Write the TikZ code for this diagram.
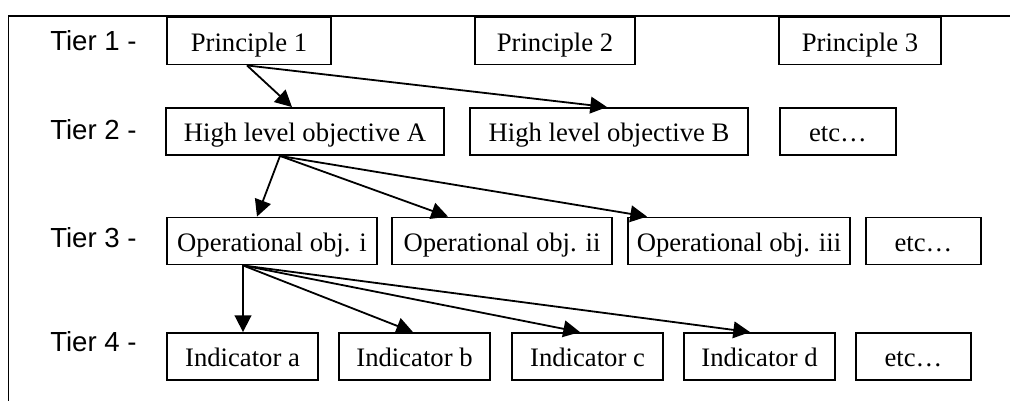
\documentclass[tikz,border=0pt]{standalone}
\usepackage{fontspec}
\setmainfont{Liberation Serif}
\newfontfamily\tierfont{Liberation Sans}
\usetikzlibrary{arrows.meta,calc}
\begin{document}
\begin{tikzpicture}[x=0.75pt,y=-0.75pt,
  box/.style={draw,line width=1.4pt,inner sep=0pt,minimum height=35.25pt,
    text height=17pt,text depth=2pt,
    font=\fontsize{20}{24}\selectfont},
  bw/.style={minimum width=#1*0.75pt},
  tier/.style={anchor=base west,inner sep=0pt,font=\tierfont\fontsize{20.7}{24}\selectfont},
  arr/.style={line width=1.35pt,-{Triangle[length=12.5pt,width=12.5pt]}},
  frame/.style={line width=1.2pt}]
\useasboundingbox (0,0) rectangle (1010,401);
% frame
\coordinate (ftr) at (1010,16);
\coordinate (ftl) at (8.5,16);
\coordinate (fbl) at (8.5,401);
\draw[frame] (ftr) -- (ftl) -- (fbl);
% tier labels
\node[tier] (t1) at (50,50) {Tier 1 -};
\node[tier] (t2) at (50,139) {Tier 2 -};
\node[tier] (t3) at (50,247) {Tier 3 -};
\node[tier] (t4) at (50,351) {Tier 4 -};
% row 1
\node[box,bw=164] (p1) at (249,41) {Principle 1};
\node[box,bw=160] (p2) at (555,41) {Principle 2};
\node[box,bw=162] (p3) at (860,41) {Principle 3};
% row 2
\node[box,bw=278] (ha) at (305,131.5) {High level objective A};
\node[box,bw=278] (hb) at (609,131.5) {High level objective B};
\node[box,bw=116] (he) at (838,131.5) {etc…};
% row 3
\node[box,bw=210] (o1) at (272,241) {Operational obj. i};
\node[box,bw=220] (o2) at (502,241) {Operational obj. ii};
\node[box,bw=222] (o3) at (739,241) {Operational obj. iii};
\node[box,bw=115] (oe) at (923.5,241) {etc…};
% row 4
\node[box,bw=151] (ia) at (242.5,356.5) {Indicator a};
\node[box,bw=151] (ib) at (414.5,356.5) {Indicator b};
\node[box,bw=151] (ic) at (587.5,356.5) {Indicator c};
\node[box,bw=151] (id) at (759.5,356.5) {Indicator d};
\node[box,bw=115] (ie) at (913.5,356.5) {etc…};
% arrows
\draw[arr] ($(p1.south)+(-2,0)$) -- ($(ha.north)+(-13,0)$);
\draw[arr] ($(p1.south)+(-2,0)$) -- ($(hb.north)+(-2,0)$);
\draw[arr] ($(ha.south)+(-25,0)$) -- ($(o1.north)+(-15,0)$);
\draw[arr] ($(ha.south)+(-25,0)$) -- ($(o2.north)+(-54,0)$);
\draw[arr] ($(ha.south)+(-25,0)$) -- ($(o3.north)+(-92,0)$);
\draw[arr] ($(o1.south)+(-29,0)$) -- ($(ia.north)+(0.5,0)$);
\draw[arr] ($(o1.south)+(-29,0)$) -- ($(ib.north)+(-1.5,0)$);
\draw[arr] ($(o1.south)+(-29,0)$) -- ($(ic.north)+(-7.5,0)$);
\draw[arr] ($(o1.south)+(-29,0)$) -- ($(id.north)+(-9.5,0)$);
\end{tikzpicture}
\end{document}
